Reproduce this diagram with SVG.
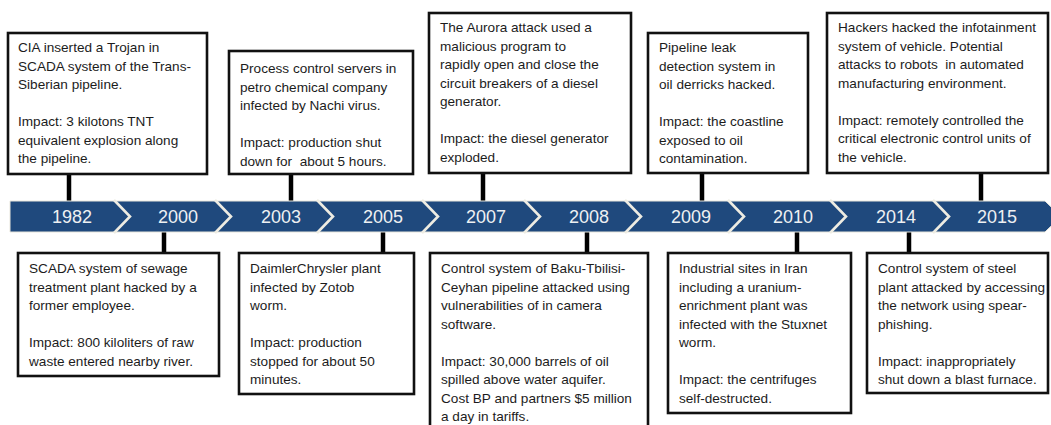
<svg xmlns="http://www.w3.org/2000/svg" width="1051" height="425" viewBox="0 0 1051 425">
<style>
.box{fill:#fff;stroke:#111;stroke-width:2.6}
.t{font-family:"Liberation Sans",Arial,sans-serif;font-size:13.6px;fill:#1c1c1c;white-space:pre}
.yr{font-family:"Liberation Sans",Arial,sans-serif;font-size:18px;fill:#eef0f2;text-anchor:middle}
.con{stroke:#000;stroke-width:4.5;fill:none}
.gap{stroke:#eeece2;stroke-width:2.6;fill:none}
</style>
<rect width="1051" height="425" fill="#fff"/>
<g id="connectors">
<line class="con" x1="69" y1="174" x2="69" y2="202"/>
<line class="con" x1="291" y1="174" x2="291" y2="202"/>
<line class="con" x1="483" y1="173" x2="483" y2="202"/>
<line class="con" x1="702" y1="173" x2="702" y2="202"/>
<line class="con" x1="981" y1="173" x2="981" y2="202"/>
<line class="con" x1="164" y1="231" x2="164" y2="253"/>
<line class="con" x1="383" y1="231" x2="383" y2="253"/>
<line class="con" x1="587" y1="231" x2="587" y2="253"/>
<line class="con" x1="797" y1="231" x2="797" y2="253"/>
<line class="con" x1="909" y1="231" x2="909" y2="253"/>
</g>
<g id="timeline">
<polygon points="10,201 1045,201 1061,216.5 1045,232 10,232" fill="#1f497d" stroke="#e8e6dc" stroke-width="1"/>
<polyline class="gap" points="114,200 130,216.5 114,233"/>
<polyline class="gap" points="215,200 231,216.5 215,233"/>
<polyline class="gap" points="317,200 333,216.5 317,233"/>
<polyline class="gap" points="422,200 438,216.5 422,233"/>
<polyline class="gap" points="524,200 540,216.5 524,233"/>
<polyline class="gap" points="625,200 641,216.5 625,233"/>
<polyline class="gap" points="728,200 744,216.5 728,233"/>
<polyline class="gap" points="830,200 846,216.5 830,233"/>
<polyline class="gap" points="933,200 949,216.5 933,233"/>
<text class="yr" x="72" y="223">1982</text>
<text class="yr" x="178" y="223">2000</text>
<text class="yr" x="281" y="223">2003</text>
<text class="yr" x="383" y="223">2005</text>
<text class="yr" x="486" y="223">2007</text>
<text class="yr" x="589" y="223">2008</text>
<text class="yr" x="691" y="223">2009</text>
<text class="yr" x="793" y="223">2010</text>
<text class="yr" x="896" y="223">2014</text>
<text class="yr" x="997" y="223">2015</text>
</g>
<g id="e1982">
<rect class="box" x="8" y="33" width="199" height="141"/>
<text class="t" x="18" y="52">CIA inserted a Trojan in<tspan x="18" dy="18.5">SCADA system of the Trans-</tspan><tspan x="18" dy="18.5">Siberian pipeline.</tspan><tspan x="18" dy="37">Impact: 3 kilotons TNT</tspan><tspan x="18" dy="18.5">equivalent explosion along</tspan><tspan x="18" dy="18.5">the pipeline.</tspan></text>
</g>
<g id="e2003">
<rect class="box" x="229" y="51" width="184" height="123"/>
<text class="t" x="240" y="73">Process control servers in<tspan x="240" dy="18.5">petro chemical company</tspan><tspan x="240" dy="18.5">infected by Nachi virus.</tspan><tspan x="240" dy="37">Impact: production shut</tspan><tspan x="240" dy="18.5">down for  about 5 hours.</tspan></text>
</g>
<g id="e2007">
<rect class="box" x="429" y="13" width="202" height="160"/>
<text class="t" x="440" y="32">The Aurora attack used a<tspan x="440" dy="18.5">malicious program to</tspan><tspan x="440" dy="18.5">rapidly open and close the</tspan><tspan x="440" dy="18.5">circuit breakers of a diesel</tspan><tspan x="440" dy="18.5">generator.</tspan><tspan x="440" dy="37">Impact: the diesel generator</tspan><tspan x="440" dy="18.5">exploded.</tspan></text>
</g>
<g id="e2009">
<rect class="box" x="648" y="33" width="160" height="140"/>
<text class="t" x="659" y="52">Pipeline leak<tspan x="659" dy="18.5">detection system in</tspan><tspan x="659" dy="18.5">oil derricks hacked.</tspan><tspan x="659" dy="37">Impact: the coastline</tspan><tspan x="659" dy="18.5">exposed to oil</tspan><tspan x="659" dy="18.5">contamination.</tspan></text>
</g>
<g id="e2015">
<rect class="box" x="827" y="13" width="221" height="160"/>
<text class="t" x="838" y="32">Hackers hacked the infotainment<tspan x="838" dy="18.5">system of vehicle. Potential</tspan><tspan x="838" dy="18.5">attacks to robots  in automated</tspan><tspan x="838" dy="18.5">manufacturing environment.</tspan><tspan x="838" dy="37">Impact: remotely controlled the</tspan><tspan x="838" dy="18.5">critical electronic control units of</tspan><tspan x="838" dy="18.5">the vehicle.</tspan></text>
</g>
<g id="e2000">
<rect class="box" x="18" y="253" width="201" height="123"/>
<text class="t" x="29" y="273">SCADA system of sewage<tspan x="29" dy="18.5">treatment plant hacked by a</tspan><tspan x="29" dy="18.5">former employee.</tspan><tspan x="29" dy="37">Impact: 800 kiloliters of raw</tspan><tspan x="29" dy="18.5">waste entered nearby river.</tspan></text>
</g>
<g id="e2005">
<rect class="box" x="239" y="253" width="175" height="141"/>
<text class="t" x="250" y="273">DaimlerChrysler plant<tspan x="250" dy="18.5">infected by Zotob</tspan><tspan x="250" dy="18.5">worm.</tspan><tspan x="250" dy="37">Impact: production</tspan><tspan x="250" dy="18.5">stopped for about 50</tspan><tspan x="250" dy="18.5">minutes.</tspan></text>
</g>
<g id="e2008">
<rect class="box" x="430" y="253" width="218" height="185"/>
<text class="t" x="441" y="273">Control system of Baku-Tbilisi-<tspan x="441" dy="18.5">Ceyhan pipeline attacked using</tspan><tspan x="441" dy="18.5">vulnerabilities of in camera</tspan><tspan x="441" dy="18.5">software.</tspan><tspan x="441" dy="37">Impact: 30,000 barrels of oil</tspan><tspan x="441" dy="18.5">spilled above water aquifer.</tspan><tspan x="441" dy="18.5">Cost BP and partners $5 million</tspan><tspan x="441" dy="18.5">a day in tariffs.</tspan></text>
</g>
<g id="e2010">
<rect class="box" x="668" y="253" width="183" height="160"/>
<text class="t" x="679" y="273">Industrial sites in Iran<tspan x="679" dy="18.5">including a uranium-</tspan><tspan x="679" dy="18.5">enrichment plant was</tspan><tspan x="679" dy="18.5">infected with the Stuxnet</tspan><tspan x="679" dy="18.5">worm.</tspan><tspan x="679" dy="37">Impact: the centrifuges</tspan><tspan x="679" dy="18.5">self-destructed.</tspan></text>
</g>
<g id="e2014">
<rect class="box" x="867" y="253" width="181" height="140"/>
<text class="t" x="878" y="273">Control system of steel<tspan x="878" dy="18.5">plant attacked by accessing</tspan><tspan x="878" dy="18.5">the network using spear-</tspan><tspan x="878" dy="18.5">phishing.</tspan><tspan x="878" dy="37">Impact: inappropriately</tspan><tspan x="878" dy="18.5">shut down a blast furnace.</tspan></text>
</g>
</svg>
